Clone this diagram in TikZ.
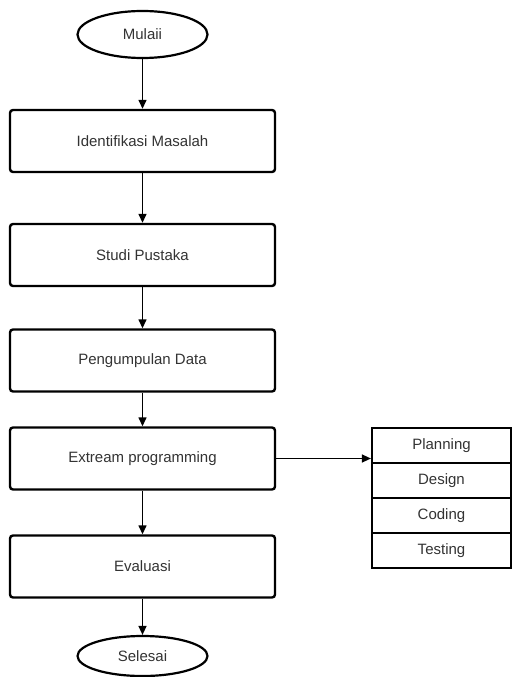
\documentclass[tikz,border=0pt]{standalone}
\usepackage{fontspec}
\setmainfont{Liberation Sans}
\usetikzlibrary{arrows.meta,shapes.geometric}
\definecolor{txt}{HTML}{333333}
\begin{document}
\begin{tikzpicture}[x=1pt,y=-1pt,
  stepbox/.style={draw, line width=2.4pt, rounded corners=3pt, minimum width=265pt, minimum height=62pt, inner sep=0pt, font=\fontsize{15}{18}\selectfont, text=txt},
  rowbox/.style={draw, line width=2.2pt, minimum width=139pt, minimum height=35pt, inner sep=0pt, font=\fontsize{15}{18}\selectfont, text=txt},
  term/.style={draw, ellipse, line width=2.2pt, minimum width=130pt, inner sep=0pt, font=\fontsize{15}{18}\selectfont, text=txt},
  arr/.style={-{Triangle[length=9pt,width=8pt]}, line width=1.4pt}]
\useasboundingbox (0,0) rectangle (512,677);
\fill[white] (0,0) rectangle (512,677);
\node[term, minimum height=47pt] (start) at (142.5,34.5) {Mulaii};
\node[stepbox] (idm) at (142.5,141) {Identifikasi Masalah};
\node[stepbox] (stp) at (142.5,255) {Studi Pustaka};
\node[stepbox] (pgd) at (142.5,360.5) {Pengumpulan Data};
\node[stepbox] (ext) at (142.5,458.5) {Extream programming};
\node[stepbox] (eva) at (142.5,566.5) {Evaluasi};
\node[term, minimum height=40pt] (end) at (142.5,656) {Selesai};
\node[rowbox] (plan) at (441.5,445.5) {Planning};
\node[rowbox] (des) at (441.5,480.5) {Design};
\node[rowbox] (cod) at (441.5,515.5) {Coding};
\node[rowbox] (tes) at (441.5,550.5) {Testing};
\draw[arr] (start) -- (idm);
\draw[arr] (idm) -- (stp);
\draw[arr] (stp) -- (pgd);
\draw[arr] (pgd) -- (ext);
\draw[arr] (ext) -- (eva);
\draw[arr] (eva) -- (end);
\draw[arr] (ext.east) -- (ext.east -| plan.west);
\end{tikzpicture}
\end{document}
